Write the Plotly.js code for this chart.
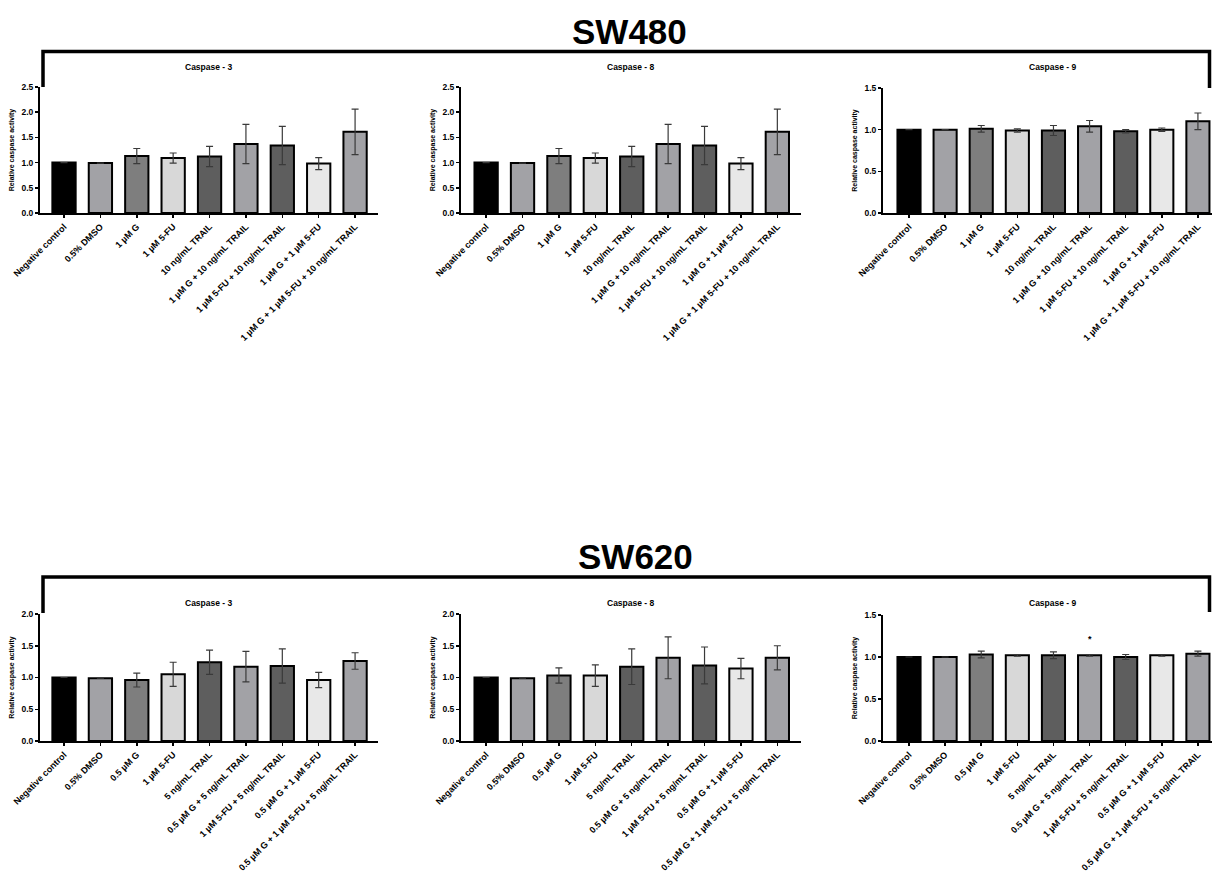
<!DOCTYPE html>
<html>
<head>
<meta charset="utf-8">
<script src="https://cdn.plot.ly/plotly-3.0.1.min.js"></script>
<style>
  html, body { margin: 0; padding: 0; background: #ffffff; }
  #chart { width: 1212px; height: 880px; }
</style>
</head>
<body>
<div id="chart"></div>
<script>
// Treatment groups for each cell line
const sw480Labels = [
  "Negative control", "0.5% DMSO", "1 µM G", "1 µM 5-FU", "10 ng/mL TRAIL",
  "1 µM G + 10 ng/mL TRAIL", "1 µM 5-FU + 10 ng/mL TRAIL",
  "1 µM G + 1 µM 5-FU", "1 µM G + 1 µM 5-FU + 10 ng/mL TRAIL"
];
const sw620Labels = [
  "Negative control", "0.5% DMSO", "0.5 µM G", "1 µM 5-FU", "5 ng/mL TRAIL",
  "0.5 µM G + 5 ng/mL TRAIL", "1 µM 5-FU + 5 ng/mL TRAIL",
  "0.5 µM G + 1 µM 5-FU", "0.5 µM G + 1 µM 5-FU + 5 ng/mL TRAIL"
];

// Relative caspase activity (mean) and error (SD)
const sw480Casp3 = [1.00, 0.99, 1.13, 1.09, 1.12, 1.37, 1.34, 0.98, 1.61];
const sw480Casp3Err = [0, 0, 0.15, 0.10, 0.20, 0.39, 0.38, 0.12, 0.45];
const sw480Casp8 = [1.00, 0.99, 1.13, 1.09, 1.12, 1.37, 1.34, 0.98, 1.61];
const sw480Casp8Err = [0, 0, 0.15, 0.10, 0.20, 0.39, 0.38, 0.12, 0.45];
const sw480Casp9 = [1.00, 1.00, 1.01, 0.99, 0.99, 1.04, 0.98, 1.00, 1.10];
const sw480Casp9Err = [0, 0, 0.04, 0.02, 0.06, 0.07, 0.02, 0.02, 0.10];

const sw620Casp3 = [1.00, 0.99, 0.96, 1.05, 1.24, 1.17, 1.18, 0.96, 1.26];
const sw620Casp3Err = [0, 0, 0.11, 0.19, 0.19, 0.24, 0.27, 0.12, 0.13];
const sw620Casp8 = [1.00, 0.99, 1.03, 1.03, 1.17, 1.31, 1.19, 1.14, 1.31];
const sw620Casp8Err = [0, 0, 0.12, 0.17, 0.28, 0.33, 0.29, 0.16, 0.19];
const sw620Casp9 = [1.00, 1.00, 1.03, 1.02, 1.02, 1.02, 1.00, 1.02, 1.04];
const sw620Casp9Err = [0, 0, 0.04, 0.01, 0.04, 0.01, 0.03, 0.01, 0.03];

// Significance marker on SW620 caspase-9 (group index, height)
const sw620Casp9Star = { group: 5, y: 1.21, text: "*" };

// Bar fill per treatment group
const groupFills = ["#000000", "#a2a2a6", "#7e7e7e", "#d8d8d8", "#5e5e5e",
                    "#a2a2a6", "#5e5e5e", "#e8e8e8", "#a2a2a6"];

const W = 1212, H = 880;
const px = v => v / W;
const py = v => 1 - v / H;
const FONT = "Liberation Sans, Arial, Helvetica, sans-serif";

// Panel geometry (pixels) : x-axis span, y-axis span, axis ranges
const panels = [
  { key: "", labels: sw480Labels, y: sw480Casp3, err: sw480Casp3Err, title: "Caspase - 3",
    x0: 40, x1: 378, yb: 213, yt: 87, xr: [-0.66, 8.63], yr: [0, 2.5], ttl: 67 },
  { key: "2", labels: sw480Labels, y: sw480Casp8, err: sw480Casp8Err, title: "Caspase - 8",
    x0: 461, x1: 801, yb: 213, yt: 87, xr: [-0.69, 8.65], yr: [0, 2.5], ttl: 67 },
  { key: "3", labels: sw480Labels, y: sw480Casp9, err: sw480Casp9Err, title: "Caspase - 9",
    x0: 883, x1: 1212, yb: 213, yt: 88, xr: [-0.72, 8.39], yr: [0, 1.5], ttl: 67 },
  { key: "4", labels: sw620Labels, y: sw620Casp3, err: sw620Casp3Err, title: "Caspase - 3",
    x0: 40, x1: 378, yb: 741, yt: 614, xr: [-0.66, 8.63], yr: [0, 2.0], ttl: 603 },
  { key: "5", labels: sw620Labels, y: sw620Casp8, err: sw620Casp8Err, title: "Caspase - 8",
    x0: 461, x1: 801, yb: 741, yt: 614, xr: [-0.69, 8.65], yr: [0, 2.0], ttl: 603 },
  { key: "6", labels: sw620Labels, y: sw620Casp9, err: sw620Casp9Err, title: "Caspase - 9",
    x0: 883, x1: 1212, yb: 741, yt: 615, xr: [-0.72, 8.39], yr: [0, 1.5], ttl: 603 }
];

const traces = [];
const layout = {
  width: W, height: H,
  margin: { l: 0, r: 0, t: 0, b: 0 },
  paper_bgcolor: "#ffffff", plot_bgcolor: "#ffffff",
  showlegend: false,
  font: { family: FONT, color: "#000000" },
  annotations: [], shapes: []
};

panels.forEach(p => {
  const idx = p.labels.map((_, i) => i);
  traces.push({
    type: "bar",
    x: idx, y: p.y,
    xaxis: "x" + p.key, yaxis: "y" + p.key,
    width: 0.64,
    marker: { color: groupFills, line: { color: "#000000", width: 2 } },
    error_y: { type: "data", array: p.err, visible: true,
               color: "#3a3a3a", thickness: 1.2, width: 3.5 },
    hoverinfo: "skip"
  });

  layout["xaxis" + p.key] = {
    domain: [px(p.x0), px(p.x1)],
    anchor: "y" + p.key,
    range: p.xr,
    tickmode: "array", tickvals: idx, ticktext: p.labels,
    tickangle: -45,
    tickfont: { family: FONT, size: 9, weight: "bold", color: "#000" },
    showline: true, linecolor: "#000", linewidth: 2,
    ticks: "outside", ticklen: 3, tickwidth: 1.5, tickcolor: "#000",
    showgrid: false, zeroline: false, fixedrange: true
  };
  layout["yaxis" + p.key] = {
    domain: [py(p.yb), py(p.yt)],
    anchor: "x" + p.key,
    range: p.yr,
    dtick: 0.5, tickformat: ".1f",
    tickfont: { family: FONT, size: 8.5, weight: "bold", color: "#000" },
    title: { text: "Relative caspase activity",
             font: { family: FONT, size: 7, weight: "bold", color: "#000" },
             standoff: 6 },
    showline: true, linecolor: "#000", linewidth: 2,
    ticks: "outside", ticklen: 3, tickwidth: 1.5, tickcolor: "#000",
    showgrid: false, zeroline: false, fixedrange: true
  };

  layout.annotations.push({
    xref: "paper", yref: "paper",
    x: px((p.x0 + p.x1) / 2 + (p.key === "3" || p.key === "6" ? 5 : 0)), y: py(p.ttl),
    xanchor: "center", yanchor: "middle",
    text: p.title, showarrow: false,
    font: { family: FONT, size: 8.5, weight: "bold", color: "#000" }
  });
});

// Significance asterisk
layout.annotations.push({
  xref: "x6", yref: "y6",
  x: sw620Casp9Star.group, y: sw620Casp9Star.y,
  text: sw620Casp9Star.text, showarrow: false,
  xanchor: "center", yanchor: "middle",
  font: { family: FONT, size: 9, weight: "bold", color: "#000" }
});

// Cell line headings with brackets spanning their three panels
const headings = [
  { text: "SW480", cx: 629, cy: 31, top: 51.5, lb: 87, rb: 88 },
  { text: "SW620", cx: 635, cy: 556, top: 577, lb: 613, rb: 612 }
];
headings.forEach(h => {
  layout.annotations.push({
    xref: "paper", yref: "paper",
    x: px(h.cx), y: py(h.cy),
    xanchor: "center", yanchor: "middle",
    text: h.text, showarrow: false,
    font: { family: FONT, size: 35, weight: "bold", color: "#000" }
  });
  layout.shapes.push({
    type: "path", xref: "paper", yref: "paper",
    path: `M ${px(43)},${py(h.lb)} L ${px(43)},${py(h.top)} L ${px(1209.5)},${py(h.top)} L ${px(1209.5)},${py(h.rb)}`,
    line: { color: "#000", width: 3.5 }
  });
});

Plotly.newPlot("chart", traces, layout, { displayModeBar: false, staticPlot: true });
</script>
</body>
</html>
